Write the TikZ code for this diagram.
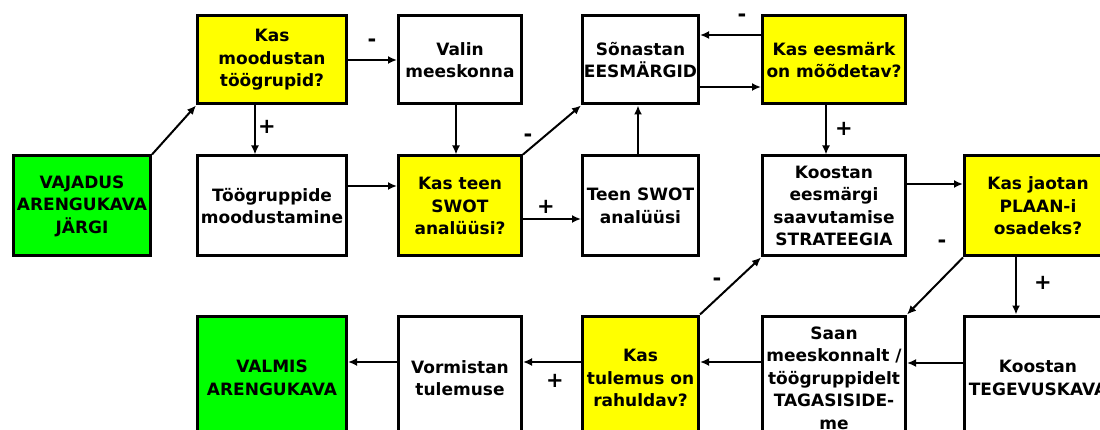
\documentclass[tikz,border=0pt]{standalone}
\usepackage{fontspec}
\setmainfont{DejaVu Sans}
\usetikzlibrary{arrows.meta}
\definecolor{qyellow}{RGB}{255,255,0}
\definecolor{qgreen}{RGB}{0,255,0}
\tikzset{
  box/.style={draw=black, line width=3pt, fill=white, align=center, inner sep=0pt,
    font=\bfseries\fontsize{17}{22.5}\selectfont},
  ybox/.style={box, fill=qyellow},
  gbox/.style={box, fill=qgreen},
  wtop/.style={minimum width=#1, minimum height=88pt},
  wmid/.style={minimum width=#1, minimum height=100pt},
  wbot/.style={minimum width=#1, minimum height=124pt},
  arr/.style={draw=black, line width=2pt, -{Latex[length=9pt,width=8pt]}},
  sign/.style={font=\bfseries\fontsize{21}{21}\selectfont, inner sep=0pt}
}
\begin{document}
\begin{tikzpicture}[x=1pt,y=-1pt]
\useasboundingbox (0,0) rectangle (1100,430);
\fill[white] (0,0) rectangle (1100,430);
\clip (0,0) rectangle (1100,430);
% top row
\node[ybox, wtop=149pt] (b1) at (272,60) {Kas\\moodustan\\töögrupid?};
\node[box, wtop=123pt] (valin) at (460,60) {Valin\\meeskonna};
\node[box, wtop=116pt] (sonastan) at (640.5,60) {Sõnastan\\EESMÄRGID};
\node[ybox, wtop=143pt] (eesm) at (834,60) {Kas eesmärk\\on mõõdetav?};
% middle row
\node[gbox, wmid=137pt] (vaj) at (82,206) {VAJADUS\\ARENGUKAVA\\JÄRGI};
\node[box, wmid=149pt] (b2) at (272,206) {Töögruppide\\moodustamine};
\node[ybox, wmid=123pt] (swotq) at (460,206) {Kas teen\\SWOT\\analüüsi?};
\node[box, wmid=116pt] (teenswot) at (640.5,206) {Teen SWOT\\analüüsi};
\node[box, wmid=143pt] (strat) at (834,206) {Koostan\\eesmärgi\\saavutamise\\STRATEEGIA};
\node[ybox, wmid=147pt] (jaotan) at (1038,206) {Kas jaotan\\PLAAN-i\\osadeks?};
% bottom row
\node[gbox, wbot=149pt] (valmis) at (272,378) {VALMIS\\ARENGUKAVA};
\node[box, wbot=123pt] (vorm) at (460,378) {Vormistan\\tulemuse};
\node[ybox, wbot=116pt] (tulemus) at (640.5,378) {Kas\\tulemus on\\rahuldav?};
\node[box, wbot=143pt] (saan) at (834,378) {Saan\\meeskonnalt /\\töögruppidelt\\TAGASISIDE-\\me};
\node[box, wbot=147pt] (tegevus) at (1038,378) {Koostan\\TEGEVUSKAVA};
% connectors
\draw[arr] (vaj.north east) -- (b1.south west);
\draw[arr] (b1.east) -- (valin.west);
\draw[arr] ([xshift=-17pt]b1.south) -- ([xshift=-17pt]b2.north);
\draw[arr] ([yshift=20pt]b2.east) -- ([yshift=20pt]swotq.west);
\draw[arr] ([xshift=-4pt]valin.south) -- ([xshift=-4pt]swotq.north);
\draw[arr] (swotq.north east) -- (sonastan.south west);
\draw[arr] ([yshift=-13pt]swotq.east) -- ([yshift=-13pt]teenswot.west);
\draw[arr] ([xshift=-2.5pt]teenswot.north) -- ([xshift=-2.5pt]sonastan.north |- sonastan.south);
\draw[arr] ([yshift=25pt]eesm.west) -- ([yshift=25pt]sonastan.east);
\draw[arr] ([yshift=-27pt]sonastan.east) -- ([yshift=-27pt]eesm.west);
\draw[arr] ([xshift=-8pt]eesm.south) -- ([xshift=-8pt]strat.north);
\draw[arr] ([yshift=22pt]strat.east) -- ([yshift=22pt]jaotan.west);
\draw[arr] (jaotan.south west) -- (saan.north east);
\draw[arr] ([xshift=-22pt]jaotan.south) -- ([xshift=-22pt]tegevus.north);
\draw[arr] ([yshift=15pt]tegevus.west) -- ([yshift=15pt]saan.east);
\draw[arr] ([yshift=16pt]saan.west) -- ([yshift=16pt]tulemus.east);
\draw[arr] (tulemus.north east) -- (strat.south west);
\draw[arr] ([yshift=16pt]tulemus.west) -- ([yshift=16pt]vorm.east);
\draw[arr] ([yshift=16pt]vorm.west) -- ([yshift=16pt]valmis.east);
% signs
\node[sign] (s1) at (372,43) {-};
\node[sign] (s2) at (267,127) {+};
\node[sign] (s3) at (528,138) {-};
\node[sign] (s4) at (546,207) {+};
\node[sign] (s5) at (742,18) {-};
\node[sign] (s6) at (844,129) {+};
\node[sign] (s7) at (942,244) {-};
\node[sign] (s8) at (1043,283) {+};
\node[sign] (s9) at (717,282) {-};
\node[sign] (s10) at (555,381) {+};
\end{tikzpicture}
\end{document}
